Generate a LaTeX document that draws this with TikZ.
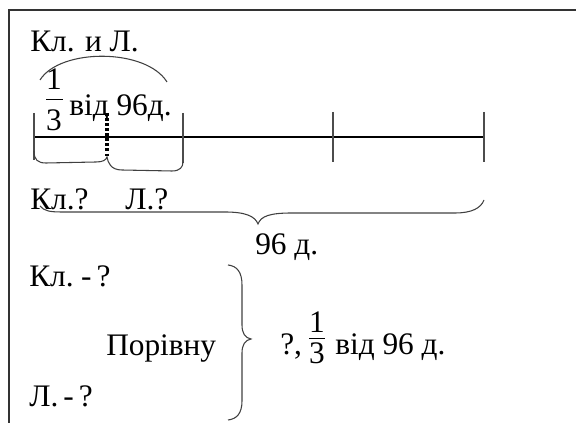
\documentclass[tikz,border=0pt]{standalone}
\usepackage{fontspec}
\setmainfont{Liberation Serif}
\newcommand\bigfnt{\fontsize{23.5}{28}\selectfont}
\newcommand\tightsp{\spaceskip 0.16em plus 0.05em\relax}
\tikzset{
  txt/.style={anchor=base west, inner sep=0pt, font=\bigfnt},
  tighttxt/.style={anchor=base west, inner sep=0pt, font=\bigfnt\tightsp},
  dig/.style={anchor=base, inner sep=0pt, font=\bigfnt},
  frameline/.style={line width=1.5pt, draw=black!80},
  tickline/.style={line width=1.1pt, draw=black!70},
  mainline/.style={line width=0.8pt, draw=black},
  bracecurve/.style={line width=0.8pt, draw=black!75},
  dotline/.style={line width=2.4pt, draw=black, dash pattern=on 2.2pt off 1.6pt},
  fracbar/.style={line width=0.7pt, draw=black}
}
\begin{document}
\begin{tikzpicture}[x=0.75pt,y=-0.75pt]
\useasboundingbox (0,0) rectangle (576,423);
% frame (top and left only)
\coordinate (fTL) at (9,10);
\coordinate (fTR) at (576,10);
\coordinate (fBL) at (9,423);
\draw[frameline] (fTR) -- (fTL) -- (fBL);

% title
\node[txt] (title) at (30,52) {Кл. и Л.};

% arc over the first part
\coordinate (arcA) at (40,80);
\coordinate (arcB) at (167,82);
\draw[bracecurve] (arcA) .. controls (60,48) and (146,48) .. (arcB);

% fraction 1/3 of 96
\node[dig] (n1) at (54,90) {1};
\node[dig] (d1) at (54,131) {3};
\coordinate (b1a) at (46,99);
\coordinate (b1b) at (63,99);
\draw[fracbar] (b1a) -- (b1b);
\node[txt] (ofa) at (69,116) {від 96д.};

% segment line and ticks
\coordinate (L0) at (34,137);
\coordinate (L3) at (484,137);
\draw[mainline] (L0) -- (L3);
\coordinate (t0a) at (34,113); \coordinate (t0b) at (34,160);
\coordinate (t1a) at (183,113); \coordinate (t1b) at (183,163);
\coordinate (t2a) at (333,112); \coordinate (t2b) at (333,162);
\coordinate (t3a) at (484,112); \coordinate (t3b) at (484,162);
\draw[tickline] (t0a) -- (t0b);
\draw[tickline] (t1a) -- (t1b);
\draw[tickline] (t2a) -- (t2b);
\draw[tickline] (t3a) -- (t3b);

% dotted divider
\coordinate (dA) at (107,113);
\coordinate (dB) at (107,158);
\draw[dotline] (dA) -- (dB);

% small double brace under the first part
\coordinate (sb0) at (34,151);
\coordinate (sbT) at (107,157);
\coordinate (sb1) at (183,162);
\draw[bracecurve] (sb0) .. controls (34,160) and (38,163) .. (46,163) -- (96,162)
  .. controls (103,162) and (106,160) .. (sbT)
  .. controls (108,163) and (111,170) .. (122,170) -- (172,171)
  .. controls (180,171) and (183,167) .. (sb1);

% labels under line
\node[txt] (kl1) at (30,210) {Кл.?};
\node[txt] (l1) at (125,210) {Л.?};

% big brace
\coordinate (bb0) at (40,206);
\coordinate (bbT) at (258,224);
\coordinate (bb1) at (484,200);
\draw[bracecurve] (bb0) .. controls (44,211) and (50,212) .. (62,212) -- (225,212)
  .. controls (245,212) and (255,216) .. (bbT)
  .. controls (261,216) and (270,213) .. (292,213) -- (455,213)
  .. controls (472,213) and (481,208) .. (bb1);
\node[txt] (tot) at (255,255) {96 д.};

% lower part
\node[tighttxt] (kl2) at (29,287) {Кл. - ?};
\node[txt] (eq) at (106,356) {Порівну};
\node[tighttxt] (l2) at (29,407) {Л. - ?};

\coordinate (rb0) at (228,265);
\coordinate (rbT) at (251,339);
\coordinate (rb1) at (228,420);
\draw[bracecurve] (rb0) .. controls (237,266) and (242,272) .. (242,285) -- (242,325)
  .. controls (242,333) and (245,338) .. (rbT)
  .. controls (245,340) and (242,345) .. (242,353) -- (242,401)
  .. controls (242,413) and (237,419) .. (rb1);

\node[txt] (q) at (280,355) {?,};
\node[dig] (n2) at (317,333) {1};
\node[dig] (d2) at (317,364) {3};
\coordinate (b2a) at (309,338);
\coordinate (b2b) at (325,338);
\draw[fracbar] (b2a) -- (b2b);
\node[txt] (ofb) at (335,355) {від 96 д.};
\end{tikzpicture}
\end{document}
